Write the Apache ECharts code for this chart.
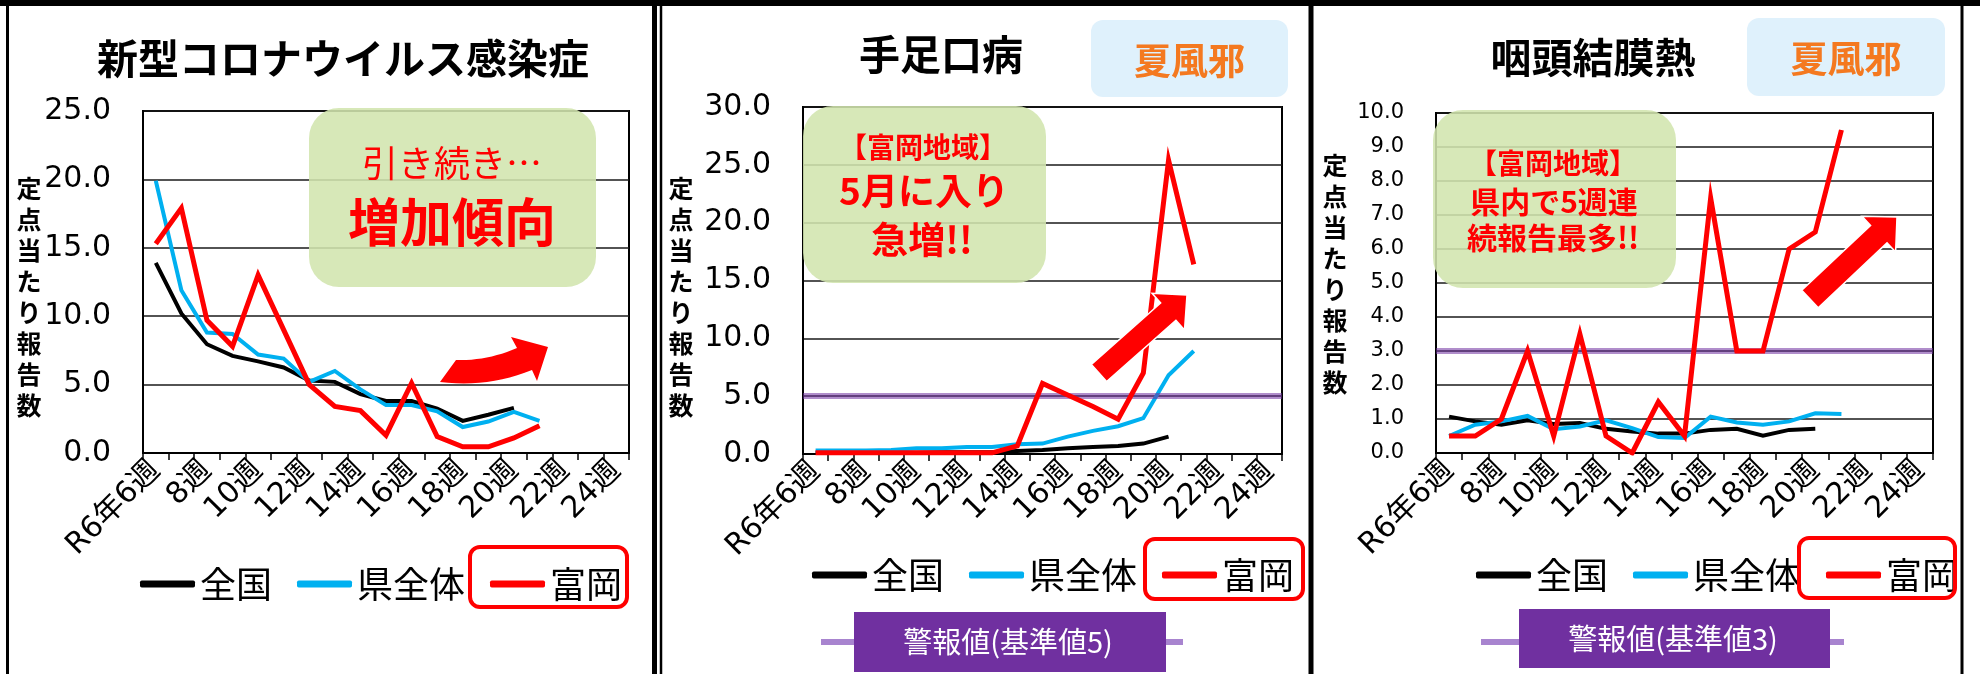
<!DOCTYPE html>
<html>
<head>
<meta charset="utf-8">
<script src="https://cdn.jsdelivr.net/npm/echarts@6/dist/echarts.min.js"></script>
<style>
  html, body { margin: 0; padding: 0; background: #fff; }
  #chart { width: 1980px; height: 674px; }
</style>
</head>
<body>
<div id="chart"></div>
<script>
// 週ラベル (R6年6週〜24週)
const weeks = ['R6年6週', '7週', '8週', '9週', '10週', '11週', '12週', '13週', '14週',
  '15週', '16週', '17週', '18週', '19週', '20週', '21週', '22週', '23週', '24週'];
const seriesNames = ['全国', '県全体', '富岡'];
const seriesColors = ['#000000', '#00b0f0', '#ff0000'];

// 新型コロナウイルス感染症
const covidNation = [13.9, 10.2, 7.95, 7.1, 6.7, 6.25, 5.3, 5.2, 4.3, 3.8, 3.8, 3.25, 2.35, 2.8, 3.3];
const covidPref = [19.9, 11.9, 8.8, 8.7, 7.2, 6.9, 5.2, 6.0, 4.65, 3.5, 3.5, 3.05, 1.9, 2.3, 3.0, 2.35];
const covidTomioka = [15.3, 17.9, 9.7, 7.8, 13.0, 9.0, 5.0, 3.4, 3.1, 1.3, 5.1, 1.2, 0.45, 0.45, 1.1, 2.0];

// 手足口病
const hfmdNation = [0.1, 0.1, 0.1, 0.1, 0.1, 0.15, 0.15, 0.15, 0.25, 0.35, 0.5, 0.6, 0.7, 0.9, 1.5];
const hfmdPref = [0.3, 0.3, 0.3, 0.35, 0.5, 0.5, 0.6, 0.6, 0.85, 0.9, 1.5, 2.0, 2.4, 3.1, 6.8, 8.9];
const hfmdTomioka = [0.1, 0.1, 0.1, 0.1, 0.1, 0.1, 0.1, 0.1, 0.7, 6.1, 5.1, 4.1, 3.0, 7.0, 25.4, 16.4];

// 咽頭結膜熱
const pcfNation = [1.07, 0.93, 0.83, 0.96, 0.85, 0.88, 0.71, 0.63, 0.57, 0.57, 0.68, 0.71, 0.51, 0.68, 0.71];
const pcfPref = [0.5, 0.83, 0.93, 1.09, 0.7, 0.78, 0.96, 0.73, 0.47, 0.44, 1.07, 0.9, 0.83, 0.93, 1.17, 1.15];
const pcfTomioka = [0.5, 0.5, 1.0, 3.0, 0.5, 3.5, 0.5, 0.0, 1.5, 0.5, 7.5, 3.0, 3.0, 6.0, 6.5, 9.5];

const titles = ['新型コロナウイルス感染症', '手足口病', '咽頭結膜熱'];
const yMax = [25, 30, 10];
const yStep = [5, 5, 1];
const alertLevels = [null, 5, 3];
const alertLabels = [null, '警報値(基準値5)', '警報値(基準値3)'];
const panelData = [
  [covidNation, covidPref, covidTomioka],
  [hfmdNation, hfmdPref, hfmdTomioka],
  [pcfNation, pcfPref, pcfTomioka]
];

const JP = '"Noto Sans CJK JP", sans-serif';
const NUM = '"DejaVu Sans", "Noto Sans CJK JP", sans-serif';

// レイアウト
const panels = [
  { grid: { left: 143, top: 111, width: 486, height: 342 }, ySize: 30,
    title: [343, 58], yName: [29, 297], legend: [135, 579], legendBox: [470, 547, 157, 60] },
  { grid: { left: 803, top: 107, width: 479, height: 347 }, ySize: 30,
    title: [941, 54], yName: [681, 297], legend: [807, 570], legendBox: [1145, 539, 158, 60] },
  { grid: { left: 1436, top: 113, width: 497, height: 340 }, ySize: 21,
    title: [1593, 57], yName: [1335, 274], legend: [1471, 570], legendBox: [1799, 538, 156, 60] }
];

const chart = echarts.init(document.getElementById('chart'));

const series = [];
panelData.forEach((lines, p) => {
  lines.forEach((vals, k) => {
    const s = {
      name: seriesNames[k],
      type: 'line',
      xAxisIndex: p,
      yAxisIndex: p,
      data: vals,
      symbol: 'none',
      z: 3 + k,
      lineStyle: { color: seriesColors[k], width: k === 2 ? 5 : 4, join: 'miter' },
      itemStyle: { color: seriesColors[k] }
    };
    if (k === 2 && alertLevels[p] != null) {
      s.markLine = {
        silent: true,
        symbol: ['none', 'none'],
        label: { show: false },
        lineStyle: { color: '#7030a0', opacity: 0.55, width: 6, type: 'solid' },
        data: [{ yAxis: alertLevels[p] }]
      };
    }
    series.push(s);
  });
});

function arrow(tail, tip, w, hw, hl) {
  const dx = tip[0] - tail[0], dy = tip[1] - tail[1];
  const len = Math.hypot(dx, dy);
  const ux = dx / len, uy = dy / len, nx = -uy, ny = ux;
  const bx = tip[0] - ux * hl, by = tip[1] - uy * hl;
  return [
    [tail[0] + nx * w, tail[1] + ny * w], [bx + nx * w, by + ny * w], [bx + nx * hw, by + ny * hw],
    tip, [bx - nx * hw, by - ny * hw], [bx - nx * w, by - ny * w], [tail[0] - nx * w, tail[1] - ny * w]
  ];
}

function quad(p0, c, p1, n) {
  const pts = [];
  for (let i = 0; i <= n; i++) {
    const t = i / n, a = (1 - t) * (1 - t), b = 2 * t * (1 - t), d = t * t;
    pts.push([a * p0[0] + b * c[0] + d * p1[0], a * p0[1] + b * c[1] + d * p1[1]]);
  }
  return pts;
}

const curvedArrow = quad([440, 382], [488, 388], [532, 370], 12)
  .concat([[537, 381], [548, 347], [511, 337]])
  .concat(quad([517, 348], [487, 361], [456, 360], 12));

function txt(x, y, text, font, color, extra) {
  return {
    type: 'text', x: x, y: y, z: 20,
    style: Object.assign({ text: text, font: font, fill: color, align: 'center', verticalAlign: 'middle' }, extra || {})
  };
}

const graphics = [
  { type: 'rect', shape: { x: 0, y: 0, width: 1980, height: 6 }, style: { fill: '#000' } },
  { type: 'line', shape: { x1: 7.5, y1: 0, x2: 7.5, y2: 674 }, style: { stroke: '#000', lineWidth: 3 } },
  { type: 'line', shape: { x1: 654.5, y1: 0, x2: 654.5, y2: 674 }, style: { stroke: '#000', lineWidth: 5 } },
  { type: 'line', shape: { x1: 661, y1: 0, x2: 661, y2: 674 }, style: { stroke: '#000', lineWidth: 2.5 } },
  { type: 'line', shape: { x1: 1311, y1: 0, x2: 1311, y2: 674 }, style: { stroke: '#000', lineWidth: 5 } },
  { type: 'line', shape: { x1: 1962, y1: 0, x2: 1962, y2: 674 }, style: { stroke: '#000', lineWidth: 3 } }
];

panels.forEach((p, i) => {
  graphics.push(txt(p.title[0], p.title[1], titles[i], 'bold 41px ' + JP, '#000'));
  graphics.push(txt(p.yName[0], p.yName[1], '定\n点\n当\nた\nり\n報\n告\n数', 'bold 25px ' + JP, '#000', { lineHeight: 31 }));
  const b = p.legendBox;
  graphics.push({ type: 'rect', z: 20, shape: { x: b[0], y: b[1], width: b[2], height: b[3], r: 10 },
    style: { fill: 'none', stroke: '#ff0000', lineWidth: 4 } });
});

// 夏風邪ラベル
[[1091, 20, 197, 77], [1747, 18, 198, 78]].forEach(r => {
  graphics.push({ type: 'rect', z: 5, shape: { x: r[0], y: r[1], width: r[2], height: r[3], r: 12 },
    style: { fill: '#dff1fc' } });
  graphics.push(txt(r[0] + r[2] / 2, r[1] + r[3] / 2 + 2, '夏風邪', 'bold 37px ' + JP, '#f47920'));
});

// コメント枠
const green = 'rgba(209,229,174,0.88)';
graphics.push({ type: 'rect', z: 5, shape: { x: 309, y: 108, width: 287, height: 179, r: 30 }, style: { fill: green } });
graphics.push(txt(452, 163, '引き続き…', '36px ' + JP, '#ff0000'));
graphics.push(txt(452, 222, '増加傾向', 'bold 52px ' + JP, '#ff0000'));

graphics.push({ type: 'rect', z: 5, shape: { x: 803, y: 106, width: 243, height: 177, r: 30 }, style: { fill: green } });
graphics.push(txt(923, 147, '【富岡地域】', 'bold 28px ' + JP, '#ff0000'));
graphics.push(txt(924, 191, '5月に入り', 'bold 37px ' + JP, '#ff0000'));
graphics.push(txt(922, 240, '急増!!', 'bold 37px ' + JP, '#ff0000'));

graphics.push({ type: 'rect', z: 5, shape: { x: 1433, y: 110, width: 243, height: 178, r: 30 }, style: { fill: green } });
graphics.push(txt(1553, 163, '【富岡地域】', 'bold 28px ' + JP, '#ff0000'));
graphics.push(txt(1554, 202, '県内で5週連', 'bold 30px ' + JP, '#ff0000'));
graphics.push(txt(1553, 238, '続報告最多!!', 'bold 30px ' + JP, '#ff0000'));

// 矢印
graphics.push({ type: 'polygon', z: 15, shape: { points: curvedArrow }, style: { fill: '#ff0000' } });
graphics.push({ type: 'polygon', z: 15, shape: { points: arrow([1099, 373], [1187, 295], 11.5, 24.5, 25) },
  style: { fill: '#ff0000', stroke: '#fff', lineWidth: 1.5 } });
graphics.push({ type: 'polygon', z: 15, shape: { points: arrow([1810, 299], [1897, 217], 12, 24.5, 25) },
  style: { fill: '#ff0000', stroke: '#fff', lineWidth: 1.5 } });

// 警報値凡例
[[1, 821, 1183, 854, 612, 312, 60, 1008], [2, 1481, 1844, 1519, 609, 311, 59, 1673]].forEach(a => {
  graphics.push({ type: 'line', z: 5, shape: { x1: a[1], y1: 642, x2: a[2], y2: 642 },
    style: { stroke: '#a884cf', lineWidth: 6 } });
  graphics.push({ type: 'rect', z: 6, shape: { x: a[3], y: a[4], width: a[5], height: a[6] },
    style: { fill: '#7030a0' } });
  graphics.push(txt(a[7], a[4] + a[6] / 2, alertLabels[a[0]], '29px ' + JP, '#fff'));
});

const option = {
  animation: false,
  backgroundColor: '#fff',
  grid: panels.map(p => Object.assign({ show: true, borderColor: '#000', borderWidth: 2, containLabel: false }, p.grid)),
  xAxis: panels.map((p, i) => ({
    type: 'category',
    gridIndex: i,
    data: weeks,
    boundaryGap: true,
    axisLine: { lineStyle: { color: '#000', width: 2 } },
    axisTick: { show: true, interval: 0, length: 7, lineStyle: { color: '#000', width: 1.5 } },
    axisLabel: { interval: 1, rotate: 45, margin: 13, fontSize: 30, fontFamily: NUM, color: '#000' },
    splitLine: { show: false }
  })),
  yAxis: panels.map((p, i) => ({
    type: 'value',
    gridIndex: i,
    min: 0,
    max: yMax[i],
    interval: yStep[i],
    axisLine: { show: true, lineStyle: { color: '#000', width: 2 } },
    axisTick: { show: false },
    axisLabel: { margin: 32, fontSize: p.ySize, fontFamily: NUM, color: '#000', formatter: v => v.toFixed(1) },
    splitLine: { lineStyle: { color: '#1a1a1a', width: 1.5 } }
  })),
  legend: panels.map(p => ({
    left: p.legend[0],
    top: p.legend[1] - 20,
    data: seriesNames,
    selectedMode: false,
    icon: 'roundRect',
    itemWidth: 55,
    itemHeight: 7,
    itemGap: 25,
    textStyle: { fontSize: 36, fontFamily: JP, color: '#000', lineHeight: 40 }
  })),
  graphic: { elements: graphics },
  series: series
};

chart.setOption(option);
</script>
</body>
</html>
